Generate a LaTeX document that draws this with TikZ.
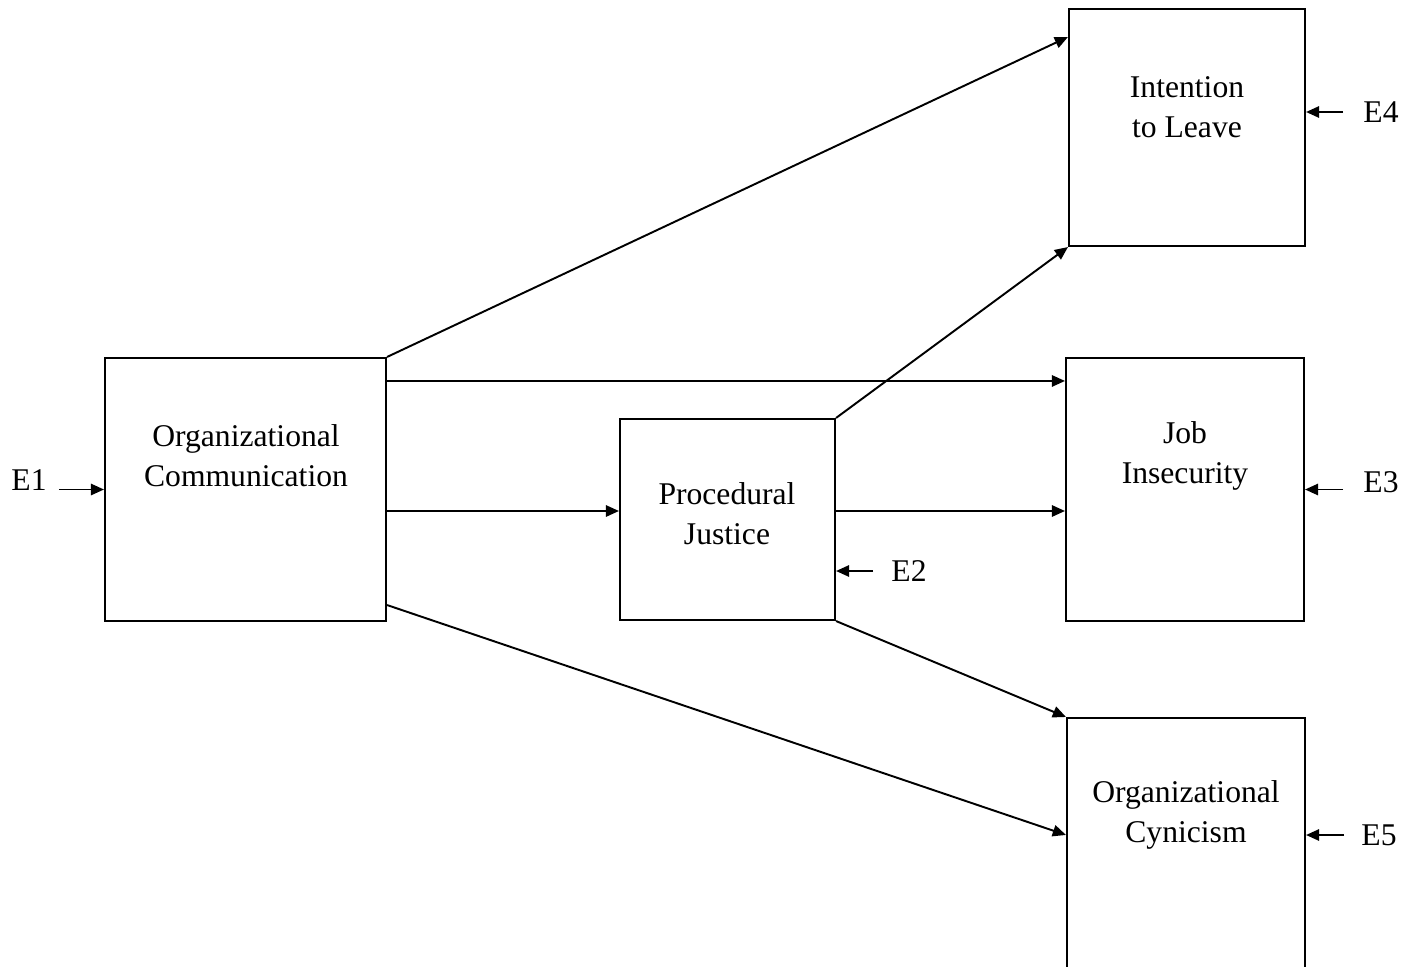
\documentclass[tikz,border=0pt]{standalone}
\usepackage{fontspec}
\setmainfont{Liberation Serif}
\usetikzlibrary{arrows.meta}

\begin{document}
\begin{tikzpicture}[x=0.02cm, y=-0.02cm,
  font=\fontsize{18}{22.7}\selectfont,
  box/.style={draw, line width=1.2pt, inner sep=0pt},
  txt/.style={align=center, inner sep=0pt},
  elab/.style={inner sep=0pt},
  arr/.style={-{Triangle[length=7.5pt, width=6.5pt]}, line width=1.1pt}]
% path model: communication -> justice -> outcomes, E1..E5 = error terms
\useasboundingbox (0,0) rectangle (1408,966);
\node[box, minimum width=5.62cm, minimum height=5.26cm] (oc) at (245.5,489.5) {};
\node[box, minimum width=4.30cm, minimum height=4.02cm] (pj) at (727.5,519.5) {};
\node[box, minimum width=4.72cm, minimum height=4.74cm] (il) at (1187,127.5) {};
\node[box, minimum width=4.76cm, minimum height=5.26cm] (ji) at (1185,489.5) {};
\node[box, minimum width=4.76cm, minimum height=6.00cm] (cy) at (1186,868) {};
\node[txt] at (246,456) {Organizational\\Communication};
\node[txt] at (727,514) {Procedural\\Justice};
\node[txt] at (1187,107) {Intention\\to Leave};
\node[txt] at (1185,456) {Job\\Insecurity};
\node[txt] at (1186,815) {Organizational\\Cynicism};
% paths
\draw[arr] (oc.north east) -- ([yshift=-0.58cm]il.north west);
\draw[arr] ([yshift=-0.48cm]oc.north east) -- ([yshift=-0.48cm]ji.north west);
\draw[arr] ([yshift=-0.43cm]oc.east) -- ([yshift=0.17cm]pj.west);
\draw[arr] ([yshift=0.34cm]oc.south east) -- ([yshift=-2.36cm]cy.north west);
\draw[arr] (pj.north east) -- (il.south west);
\draw[arr] ([yshift=0.17cm]pj.east) -- ([yshift=-0.43cm]ji.west);
\draw[arr] (pj.south east) -- (cy.north west);
% error terms
\node[elab] (e1) at (29,480) {E1};
\node[elab] (e2) at (909,571) {E2};
\node[elab] (e3) at (1381,482) {E3};
\node[elab] (e4) at (1381,112) {E4};
\node[elab] (e5) at (1379,835) {E5};
\draw[arr, shorten <=0.24cm] (e1.east |- oc.west) -- (oc.west);
\draw[arr, shorten <=0.36cm] (e2.west) -- (e2.west -| pj.east);
\draw[arr, shorten <=0.40cm] (e3.west |- ji.east) -- (ji.east);
\draw[arr, shorten <=0.40cm] (e4.west) -- (e4.west -| il.east);
\draw[arr, shorten <=0.34cm] (e5.west) -- (e5.west -| cy.east);
\end{tikzpicture}
\end{document}
